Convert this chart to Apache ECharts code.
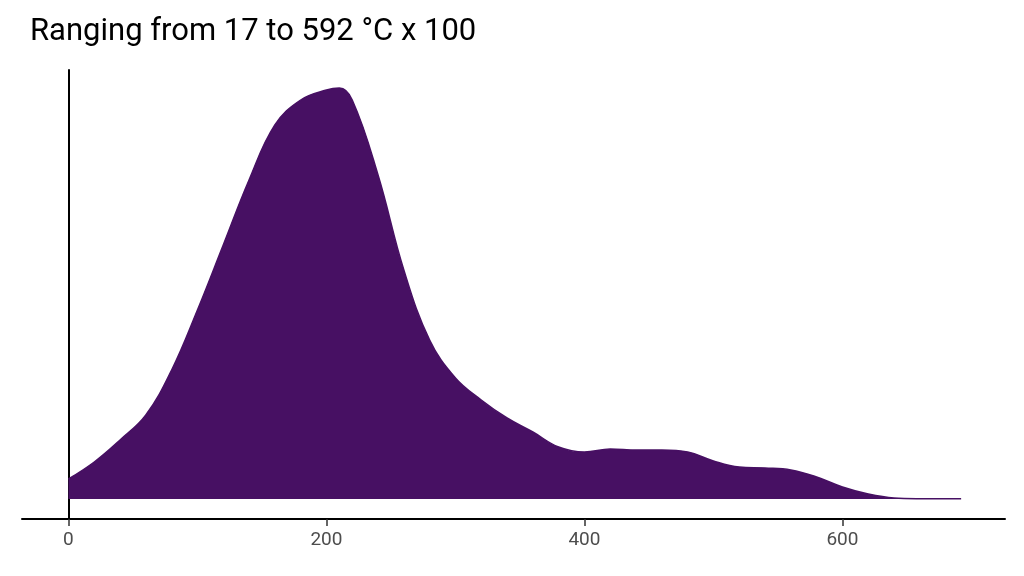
<!DOCTYPE html>
<html>
<head>
<meta charset="utf-8">
<script src="https://cdn.jsdelivr.net/npm/echarts@6/dist/echarts.min.js"></script>
<style>html,body{margin:0;padding:0;background:#fff}#chart{width:1024px;height:576px}</style>
</head>
<body>
<div id="chart"></div>
<script>
// density curve, x in data units, y as estimated heights
var xs = [0, 20, 40, 60, 80, 100, 120, 140, 160, 180, 200, 210, 220, 240, 260, 280, 300, 320, 340, 360, 380, 400, 420, 440, 460, 480, 500, 520, 540, 560, 580, 600, 620, 640, 660, 692];
var dens = [20, 37, 59, 84, 129, 189, 254, 319, 374, 399, 409, 411, 399, 324, 229, 159, 121, 99, 81, 67, 52, 47, 50, 49, 49, 47, 38, 32, 31, 29, 22, 12, 5, 1, 0.3, 0.2];
var xTicks = [0, 200, 400, 600];

var chart = echarts.init(document.getElementById('chart'));
chart.setOption({
  animation: false,
  title: {
    text: 'Ranging from 17 to 592 °C x 100',
    left: 25, top: 12,
    textStyle: { fontFamily: 'Roboto', fontWeight: 'normal', fontSize: 31, color: '#000' }
  },
  grid: { left: 22, right: 19, top: 70, bottom: 57 },
  xAxis: {
    type: 'value', min: -36, max: 726,
    axisLine: { onZero: false, lineStyle: { color: '#000', width: 2 } },
    axisTick: { show: true, length: 7, lineStyle: { color: '#333', width: 1.5 },
      customValues: xTicks },
    axisLabel: { color: '#4d4d4d', fontSize: 19, fontFamily: 'Roboto', margin: 12,
      customValues: xTicks },
    splitLine: { show: false }
  },
  yAxis: {
    type: 'value', min: -20, max: 429,
    axisLine: { show: true, lineStyle: { color: '#000', width: 2 } },
    axisTick: { show: false }, axisLabel: { show: false }, splitLine: { show: false }
  },
  series: [{
    type: 'line', smooth: 0.4, symbol: 'none',
    data: xs.map(function (x, i) { return [x, dens[i]]; }),
    lineStyle: { color: '#471063', width: 1.5 },
    areaStyle: { color: '#471063', opacity: 1, origin: 0 }
  }]
});
</script>
</body>
</html>
